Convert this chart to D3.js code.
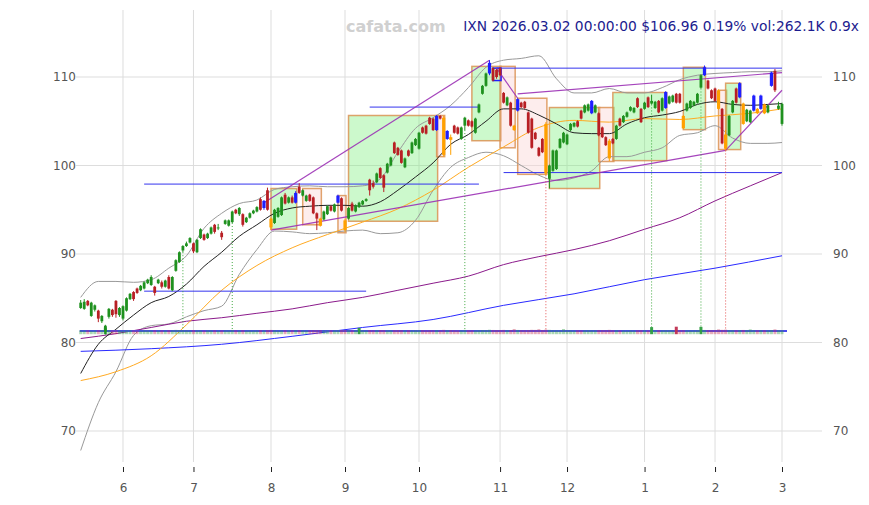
<!DOCTYPE html>
<html><head><meta charset="utf-8">
<script src="https://cdn.jsdelivr.net/npm/d3@7"></script>
<style>
html,body{margin:0;padding:0;background:#fff;}
svg{display:block;font-family:"DejaVu Sans",sans-serif;}
</style></head><body>
<svg id="chart" width="869" height="505"></svg>
<script>
// ---------------- DATA ----------------
const opens = [83.9,83.8,84.7,83.0,83.7,83.6,82.4,81.2,82.9,83.7,
84.7,83.1,82.7,83.6,84.9,85.7,86.1,85.9,86.1,86.7,
86.5,86.3,86.7,86.8,86.3,87.4,85.9,88.1,89.1,90.4,
90.9,91.3,91.2,90.2,91.8,92.2,91.8,92.3,93.3,92.9,
92.4,93.4,93.2,93.6,95.0,94.5,94.5,93.6,94.1,94.6,
94.8,96.2,95.2,97.2,94.0,93.5,94.2,94.4,96.7,95.8,
96.4,95.8,97.6,96.6,96.0,96.7,96.4,94.6,94.0,93.9,
94.5,95.4,94.8,95.8,96.3,93.8,94.0,95.7,94.8,95.3,
95.6,96.0,98.4,98.0,98.1,99.7,98.9,99.2,100.0,102.6,
102.0,101.7,99.8,101.7,101.4,102.3,101.9,104.3,104.5,105.4,
105.3,104.0,105.6,105.4,103.0,103.2,104.5,104.3,103.0,104.5,
105.1,105.0,103.7,106.0,108.1,109.0,110.4,111.0,110.8,111.0,
108.2,106.8,107.1,104.5,106.2,107.1,107.2,106.0,105.3,103.7,
102.0,103.0,104.7,98.5,99.4,99.6,102.0,102.6,102.4,104.0,
104.4,105.0,106.2,106.0,106.2,105.9,106.0,105.9,104.3,103.2,
102.8,103.0,103.0,105.3,104.9,105.5,106.2,106.0,107.6,106.4,
106.4,107.7,107.0,106.5,107.3,106.2,106.5,107.0,107.2,108.1,
108.1,105.6,106.2,106.5,106.8,107.1,108.8,110.2,109.6,108.5,
108.7,108.5,106.4,103.5,103.4,106.0,108.7,107.7,107.0,105.0,
104.9,106.2,106.4,106.4,106.9,106.0,109.0,110.7,106.4,104.7];
const highs = [84.8,84.9,84.8,84.6,84.3,83.7,83.1,82.0,83.9,83.8,
84.8,84.0,84.2,85.1,85.6,85.8,86.2,86.5,86.9,87.2,
87.6,86.4,87.2,87.0,87.1,87.6,87.5,89.4,90.3,91.0,
91.4,91.9,91.3,91.7,92.9,92.3,92.4,93.1,93.4,93.4,
92.6,93.9,93.9,94.9,95.1,95.3,94.6,94.2,94.7,95.0,
95.4,96.4,96.1,97.5,94.1,95.1,95.3,96.5,96.9,96.5,
96.6,97.1,98.0,97.3,96.7,96.8,96.5,94.7,94.1,94.9,
95.5,95.5,95.7,96.7,96.4,94.0,95.3,95.9,95.6,95.9,
96.1,96.3,98.5,98.3,99.2,99.8,99.0,100.3,101.0,102.7,
102.1,101.8,100.9,101.8,102.7,103.1,103.8,104.4,104.6,105.5,
105.4,105.7,105.7,105.6,104.0,103.5,104.6,104.4,104.4,105.5,
105.2,105.1,105.4,107.0,109.1,110.5,111.9,111.1,110.9,111.1,
108.3,107.8,107.2,104.6,107.6,107.2,107.3,106.1,105.4,103.8,
102.1,103.1,104.9,100.1,101.8,101.8,103.1,103.8,103.6,104.8,
104.9,105.1,106.3,106.9,107.0,107.4,106.9,106.0,104.4,103.3,
103.0,103.1,104.6,105.4,105.7,106.1,106.7,106.6,107.7,106.5,
107.2,107.8,108.0,107.3,107.4,107.7,108.4,107.9,108.0,108.2,
108.2,105.7,107.1,107.4,107.3,108.2,110.3,111.3,109.7,108.6,
108.8,108.6,106.5,104.0,105.7,107.4,108.8,109.4,107.1,106.4,
106.3,108.0,106.5,108.0,107.0,106.9,110.6,110.9,107.2,107.1];
const lows = [83.8,83.7,84.1,82.9,83.5,82.3,82.2,80.9,82.7,82.9,
82.8,82.9,82.5,83.5,84.8,84.7,85.5,85.8,86.0,86.6,
86.4,85.3,86.6,86.1,86.2,86.0,85.8,88.0,89.0,90.2,
90.8,91.2,90.1,90.1,91.7,91.5,91.7,92.2,92.3,92.7,
91.6,93.3,93.1,93.5,94.5,94.3,93.1,93.5,94.0,94.5,
94.7,94.9,95.0,94.9,92.7,93.4,94.1,94.3,95.6,95.7,
95.7,95.7,96.8,96.5,95.9,95.9,94.5,92.7,93.1,93.8,
94.4,94.8,94.7,95.7,94.8,92.5,93.9,94.8,94.7,95.2,
95.5,95.9,96.6,97.4,98.0,98.5,97.0,99.1,99.9,101.3,
101.1,100.2,99.7,101.0,101.3,102.2,101.8,103.6,103.5,104.6,
103.9,103.9,105.2,101.0,102.9,101.2,103.6,103.5,102.9,104.0,
104.4,104.3,103.6,105.9,108.0,108.9,110.2,109.5,109.8,110.1,
107.0,106.7,104.4,103.9,106.1,106.5,106.4,103.6,101.9,102.9,
101.0,101.4,98.9,97.4,99.3,99.5,101.9,102.5,102.3,103.9,
104.3,104.3,105.2,105.9,106.1,105.8,105.9,103.3,103.1,102.2,
100.5,102.4,102.9,104.4,104.8,105.4,106.1,105.9,106.5,104.8,
106.3,106.5,106.9,106.4,105.9,106.1,106.4,106.9,107.1,107.0,
107.0,104.1,106.1,106.4,106.7,107.0,108.7,110.1,108.6,107.5,
107.2,106.3,102.4,101.7,103.3,105.9,107.0,107.6,104.6,104.9,
104.8,106.1,105.8,106.3,105.8,105.9,108.9,108.3,106.3,104.5];
const closes = [84.5,84.6,84.2,84.5,84.2,82.7,83.0,81.9,83.8,83.1,
83.2,83.9,84.1,85.0,85.5,84.9,85.6,86.4,86.8,87.1,
87.4,85.6,87.1,86.3,87.0,86.1,87.4,89.3,90.2,90.9,
91.2,91.8,90.3,91.6,92.8,91.6,92.3,93.0,92.5,93.0,
91.9,93.8,93.8,94.8,94.6,95.2,93.3,94.1,94.6,94.9,
95.3,95.0,96.0,95.0,93.0,95.0,95.2,96.4,95.7,96.4,
95.8,96.9,96.9,97.2,96.6,96.0,94.6,94.0,93.2,94.8,
95.4,94.9,95.6,96.6,94.9,92.7,95.2,94.9,95.5,95.8,
96.0,96.2,97.2,97.6,99.1,98.6,97.5,100.2,100.9,101.4,
101.2,100.3,100.8,101.1,102.6,103.0,103.7,103.7,103.6,104.7,
104.0,105.6,105.3,101.2,103.9,102.9,103.7,103.6,104.3,105.4,
104.5,104.4,105.3,106.9,109.0,110.4,111.6,109.6,110.0,110.2,
107.1,107.7,104.5,104.0,107.5,106.6,106.5,103.7,102.0,103.0,
101.1,101.5,99.1,100.0,101.7,101.7,103.0,103.7,103.5,104.7,
104.8,104.4,105.3,106.8,106.9,107.3,106.8,103.4,103.2,102.3,
100.8,102.5,104.5,104.5,105.6,106.0,106.6,106.5,106.6,104.9,
107.1,106.6,107.3,107.2,106.0,107.6,108.3,107.8,107.9,107.1,
107.1,104.2,107.0,107.3,107.2,108.1,110.2,111.1,108.7,107.6,
107.3,106.4,102.5,101.9,105.6,107.3,107.1,109.3,104.7,106.3,
106.2,107.9,105.9,107.9,105.9,106.8,110.5,108.5,106.76,106.96];
const volumes = [245,230,260,215,238,270,290,610,285,250,
265,240,228,255,272,248,236,221,259,244,
231,268,226,247,233,276,258,312,296,284,
262,241,277,255,238,229,251,246,267,224,
239,258,242,301,263,237,281,226,249,235,
254,279,243,288,306,261,234,248,270,252,
266,291,284,245,238,257,279,296,287,241,
232,255,247,268,282,298,263,244,251,560,
271,246,289,262,275,293,288,259,253,281,
296,274,248,263,251,269,277,284,258,266,
262,287,245,318,276,292,264,251,243,305,
259,247,238,273,286,292,334,301,288,297,
312,276,294,420,303,281,276,298,322,309,
400,286,352,318,274,262,251,420,266,247,
238,259,244,256,273,248,262,297,281,276,
318,264,271,245,238,226,249,237,261,276,
258,244,650,248,272,255,281,263,247,700,
266,289,254,243,258,271,680,302,287,276,
291,380,317,346,281,268,274,292,301,277,
380,276,259,282,268,253,296,380,271,262.1];

// signal candles
const blueMarks = [52,61,73,101,104,116,124,145,166,177,187,191,193,196];
const orangeMarks = [54,68,75,103,105,123,132,150,171,181,183,188,192,194];
// volume-spike dotted guides
const spikeIdx = [29,43,109,132,162,176,183];

// x-axis (month) ticks
const monthLabels = ['6','7','8','9','10','11','12','1','2','3'];
const monthIdx = [12,32,54,75,96,119,138,160,180,199];
const yTicks = [70,80,90,100,110];

// moving averages / bands (read at sample indices)
const idx5 = [0,5,10,15,20,25,30,35,40,45,50,55,60,65,70,75,80,85,90,95,100,105,110,115,120,125,130,135,140,145,150,155,160,165,170,175,180,185,190,195,199];
const ma20 = [76.5,79.8,81.5,83.1,84.5,85.2,86.6,88.6,90.2,92.0,93.3,94.6,95.2,95.4,95.5,95.5,95.4,95.9,97.2,98.7,100.3,102.4,103.5,105.0,106.4,106.4,105.7,104.7,103.7,103.6,103.6,104.7,105.4,105.7,106.1,106.9,107.2,106.9,106.8,106.9,107.0];
const bbUpper = [85.1,86.9,86.9,86.8,87.1,88.4,89.8,92.9,94.6,95.7,96.1,97.3,97.6,97.7,97.6,97.6,97.7,98.5,101.5,104.2,105.4,106.8,108.8,111.1,111.9,112.1,112.4,109.8,108.2,108.2,108.7,108.2,108.2,108.8,109.7,110.2,110.4,110.5,110.6,110.6,110.7];
const bbLower = [67.8,73.2,76.7,80.8,81.9,82.1,82.9,83.6,84.1,87.7,90.5,92.6,92.5,92.3,92.4,92.6,92.7,92.3,92.4,93.8,97.2,99.8,100.9,101.5,101.1,100.0,98.9,98.3,98.6,99.4,101.0,101.0,101.5,102.0,103.4,103.7,104.5,103.1,102.5,102.5,102.6];
const idx10 = [0,10,20,30,40,50,60,70,80,90,100,110,120,130,140,150,160,170,180,190,199];
const ma50 = [75.7,76.7,78.5,82.0,85.9,88.7,90.7,92.2,93.6,95.1,97.2,99.8,102.1,104.3,105.1,104.9,105.3,105.2,105.6,105.9,106.4];
const ma100 = [80.45,81.0,81.7,82.4,82.8,83.3,83.8,84.5,85.1,85.9,86.7,87.5,88.8,89.7,90.5,91.5,92.8,94.1,96.0,97.7,99.2];
const idx20 = [0,20,40,60,80,100,120,140,160,180,199];
const ma200 = [79.0,79.3,79.8,80.7,81.7,82.6,84.2,85.5,87.1,88.4,89.8];

// support / resistance levels
const levelVal  = [85.8,97.9,106.6,111.0,99.2];
const levelFrom = [18,18,82,118,120];
const levelTo   = [81,113,113,199,199];
const volBaseline = 81.3;

// trend lines
const trendFrom = [52,118,124,54,183];
const trendFromVal = [95.8,111.0,108.1,92.7,101.7];
const trendTo = [116,124,199,183,199];
const trendToVal = [111.9,107.6,110.5,101.7,108.5];

// zones
const boxFrom = [54,63,73,76,101,111,119,124,133,147,151,171,181,183,117];
const boxTo   = [61,68,75,101,103,119,123,132,147,151,166,177,183,187,119];
const boxHi   = [97.4,97.4,96.6,105.65,105.65,111.2,111.2,107.6,106.55,106.55,108.25,111.1,108.5,109.3,111.0];
const boxLo   = [92.8,93.3,92.4,93.7,101.0,102.8,102.0,99.0,97.4,100.45,100.55,104.05,101.8,101.8,109.6];
const boxKind = ['g','p','p','g','p','g','p','p','g','p','g','g','p','g','b'];

const titleText = 'IXN 2026.03.02 00:00:00 $106.96 0.19% vol:262.1K 0.9x';
const watermark = 'cafata.com';

// ---------------- DRAW ----------------
const svg = d3.select('#chart');
const PL = 80, PR = 822, PT = 10, PB = 462;
const x = d3.scaleLinear().domain([0,199]).range([80.7,782.0]);
const y = d3.scaleLinear().domain([70,110]).range([431,77]);
const volH = d3.scaleLinear().domain([150,700]).range([3,7.5]);
const GREEN = '#1f911f', RED = '#b81f24', BLUE = '#1f1fff', ORANGE = '#ffa000';
const bw = 2.8;

// grid
const grid = svg.append('g');
grid.selectAll('line.h').data(yTicks).join('line')
  .attr('x1',PL-4).attr('x2',PR).attr('y1',d=>y(d)).attr('y2',d=>y(d))
  .attr('stroke','#dddddd').attr('stroke-width',1);
grid.selectAll('line.v').data(monthIdx).join('line')
  .attr('x1',d=>x(d)).attr('x2',d=>x(d)).attr('y1',PT).attr('y2',PB)
  .attr('stroke','#dddddd').attr('stroke-width',1);

// axes
const xAxis = svg.append('g').attr('transform',`translate(0,${PB+5})`)
  .call(d3.axisBottom(x).tickValues(monthIdx).tickFormat((d,i)=>monthLabels[i]).tickSize(5).tickPadding(11));
const yl = svg.append('g').attr('transform',`translate(${PL},0)`)
  .call(d3.axisLeft(y).tickValues(yTicks).tickSize(0).tickPadding(4));
const yr = svg.append('g').attr('transform',`translate(${PR},0)`)
  .call(d3.axisRight(y).tickValues(yTicks).tickSize(0).tickPadding(11));
[xAxis,yl,yr].forEach(g=>{
  g.select('.domain').remove();
  g.selectAll('text').attr('fill','#555').style('font-size','12px').style('font-family','DejaVu Sans');
  g.selectAll('line').attr('stroke','#222');
});

// zones
const bx = svg.append('g');
boxFrom.forEach((a,k)=>{
  const kind = boxKind[k];
  bx.append('rect')
    .attr('x',x(a)).attr('width',x(boxTo[k])-x(a)+1)
    .attr('y',y(boxHi[k])).attr('height',y(boxLo[k])-y(boxHi[k]))
    .attr('fill', kind==='g' ? 'rgba(120,240,120,0.38)' : kind==='p' ? 'rgba(250,215,215,0.45)' : 'none')
    .attr('stroke', kind==='b' ? BLUE : '#d98c4a')
    .attr('stroke-opacity', kind==='b' ? 1 : 0.8)
    .attr('stroke-width', 1.5);
});

// lines
const lineGen = d3.line().x(d=>x(d[0])).y(d=>y(d[1])).curve(d3.curveMonotoneX);
function drawSeries(ix, vals, color, w, op){
  svg.append('path').datum(ix.map((d,i)=>[d,vals[i]]))
    .attr('d',lineGen).attr('fill','none').attr('stroke',color)
    .attr('stroke-width',w).attr('stroke-opacity',op);
}
drawSeries(idx5, bbUpper, '#999999', 1, 1);
drawSeries(idx5, bbLower, '#999999', 1, 1);
drawSeries(idx20, ma200, '#2a2aff', 1, 1);
drawSeries(idx10, ma100, '#8b1a8b', 1, 1);
drawSeries(idx10, ma50, '#ffaa22', 1, 1);
drawSeries(idx5, ma20, '#222222', 1, 1);

// levels
levelVal.forEach((v,k)=>{
  svg.append('line').attr('x1',x(levelFrom[k])).attr('x2',x(levelTo[k]))
    .attr('y1',y(v)).attr('y2',y(v)).attr('stroke','#3434ee').attr('stroke-width',1);
});

// trend lines
trendFrom.forEach((a,k)=>{
  svg.append('line').attr('x1',x(a)).attr('y1',y(trendFromVal[k]))
    .attr('x2',x(trendTo[k])).attr('y2',y(trendToVal[k]))
    .attr('stroke','#9b30b5').attr('stroke-width',1.2).attr('stroke-opacity',0.9);
});

// dotted spike guides
spikeIdx.forEach(i=>{
  const up = closes[i] >= opens[i];
  svg.append('line').attr('x1',x(i)).attr('x2',x(i))
    .attr('y1',y(lows[i])).attr('y2',y(volBaseline))
    .attr('stroke', up ? '#2ca02c' : '#e04040').attr('stroke-width',1)
    .attr('stroke-dasharray','1,2').attr('stroke-opacity',0.9);
});

// volume baseline, then bars
svg.append('line').attr('x1',x(0)-1).attr('x2',x(199)+5)
  .attr('y1',y(volBaseline)).attr('y2',y(volBaseline))
  .attr('stroke','#4a4af0').attr('stroke-width',2);
const vb = svg.append('g');
volumes.forEach((v,i)=>{
  const up = closes[i] >= opens[i];
  const h = volH(v);
  const base = y(volBaseline) + 3.2;
  vb.append('rect').attr('x',x(i)-1.5).attr('width',3)
    .attr('y',base-h).attr('height',h)
    .attr('fill', up ? '#2e9e40' : '#c03050')
    .attr('fill-opacity', v > 500 ? 0.95 : 0.4);
});

// candles
const cg = svg.append('g');
closes.forEach((c,i)=>{
  const o = opens[i];
  let col = c >= o ? GREEN : RED;
  let w = bw;
  if (blueMarks.includes(i)) { col = BLUE; w = 3.2; }
  if (orangeMarks.includes(i)) { col = ORANGE; w = 3.2; }
  cg.append('line').attr('x1',x(i)).attr('x2',x(i))
    .attr('y1',y(highs[i])).attr('y2',y(lows[i]))
    .attr('stroke',col).attr('stroke-width',1);
  const top = y(Math.max(o,c)), bot = y(Math.min(o,c));
  cg.append('rect').attr('x',x(i)-w/2).attr('width',w)
    .attr('y',top).attr('height',Math.max(1,bot-top)).attr('fill',col);
});

// texts
svg.append('text').attr('x',346).attr('y',32).text(watermark)
  .attr('fill','#d0d0d0').style('font-size','16px').style('font-weight','bold');
svg.append('text').attr('x',859).attr('y',31).attr('text-anchor','end').text(titleText)
  .attr('fill','#1c1c8f').style('font-size','13.8px');
</script>
</body></html>
